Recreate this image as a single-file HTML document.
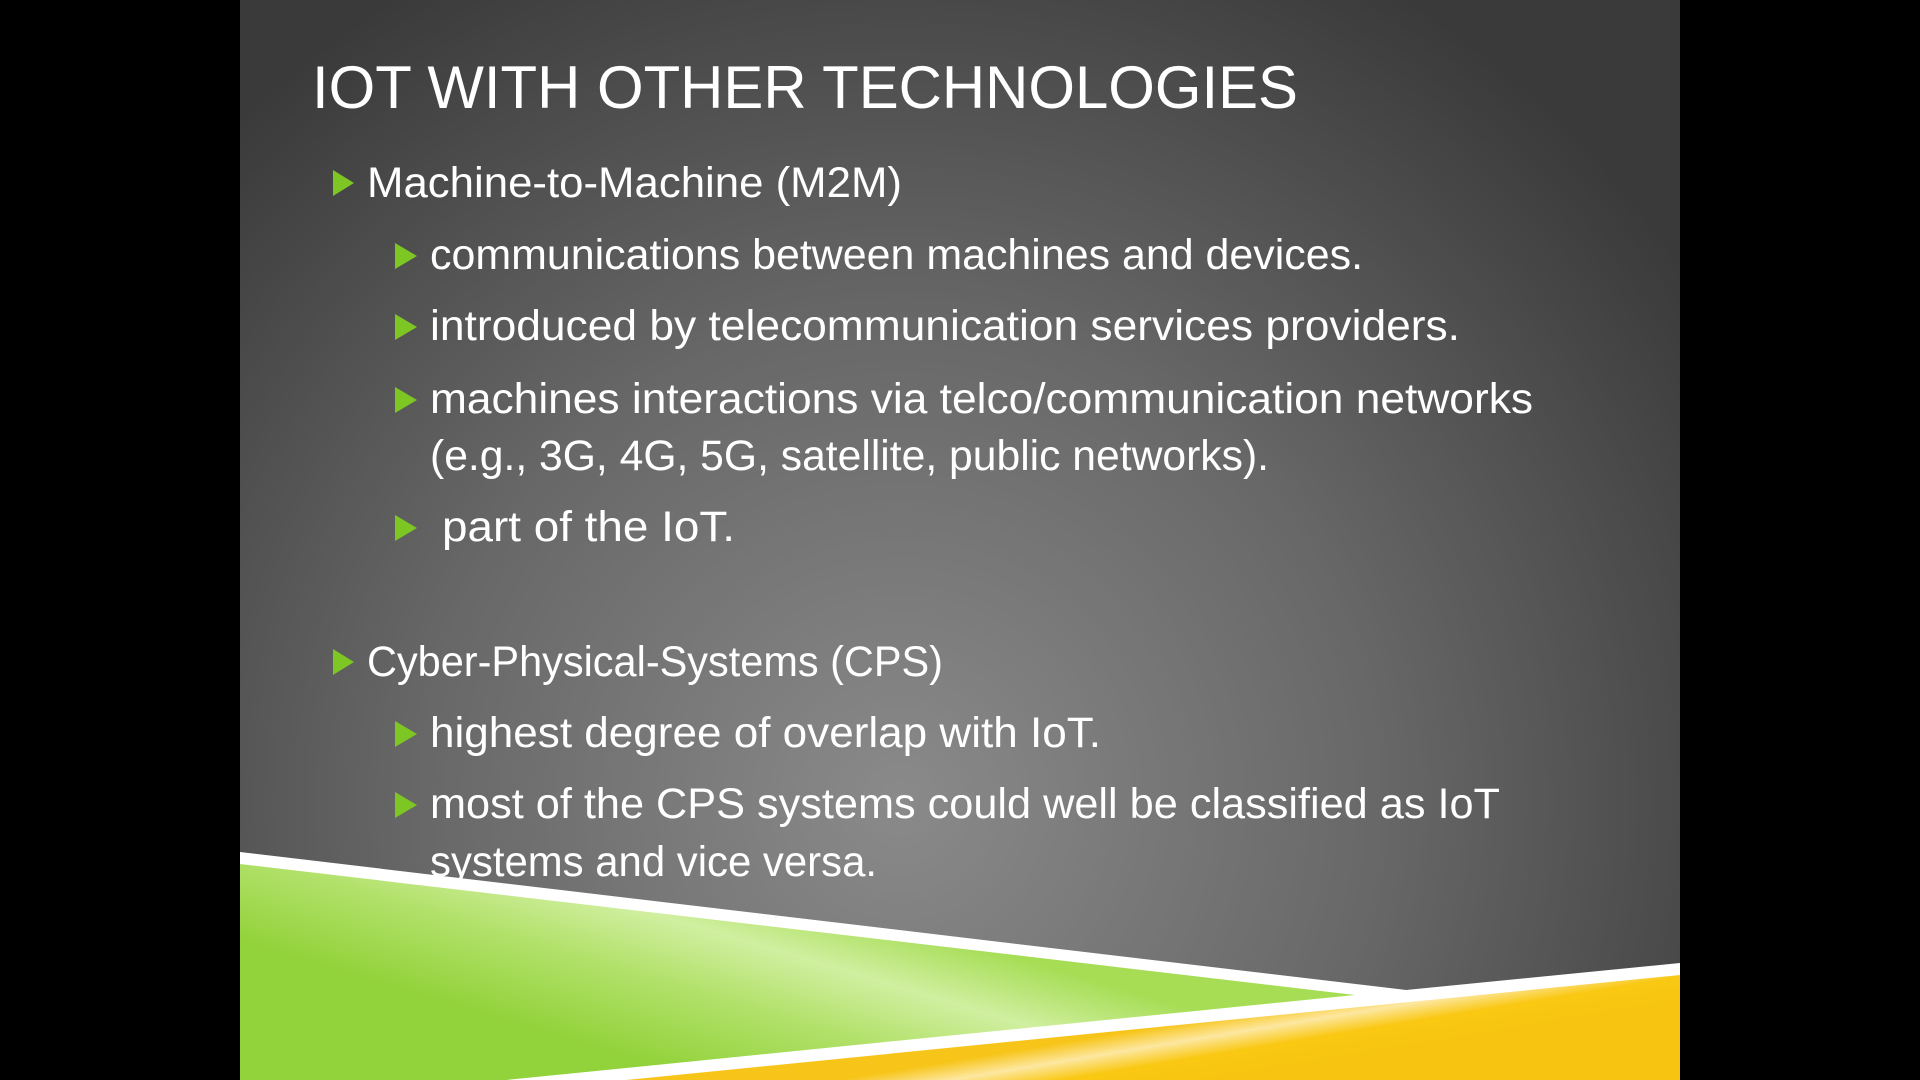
<!DOCTYPE html>
<html><head><meta charset="utf-8"><style>
html,body{margin:0;padding:0;background:#000;width:1920px;height:1080px;overflow:hidden}
svg{display:block}
text{font-family:"Liberation Sans",sans-serif;fill:#fff}
</style></head><body>
<svg width="1920" height="1080" viewBox="0 0 1920 1080" xmlns="http://www.w3.org/2000/svg">
<defs>
<radialGradient id="bg" cx="900" cy="800" r="950" gradientUnits="userSpaceOnUse">
<stop offset="0" stop-color="#8a8a8a"/><stop offset="0.5" stop-color="#686868"/><stop offset="1" stop-color="#3a3a3a"/>
</radialGradient>
<linearGradient id="gr" x1="760" y1="880" x2="700" y2="1080" gradientUnits="userSpaceOnUse">
<stop offset="0" stop-color="#a6dd55"/><stop offset="0.3" stop-color="#d0efa0"/><stop offset="0.6" stop-color="#b2e16a"/><stop offset="1" stop-color="#92d23a"/>
</linearGradient>
<linearGradient id="ye" x1="1200" y1="1020" x2="1210" y2="1080" gradientUnits="userSpaceOnUse">
<stop offset="0" stop-color="#f7c51a"/><stop offset="0.3" stop-color="#fde7a0"/><stop offset="0.6" stop-color="#f9c812"/><stop offset="1" stop-color="#f7c511"/>
</linearGradient>
</defs>
<rect x="0" y="0" width="1920" height="1080" fill="#000"/>
<rect x="240" y="0" width="1440" height="1080" fill="url(#bg)"/>
<polygon points="240,852 1406,990 1680,963 1680,1080 240,1080" fill="#fff"/>
<polygon points="240,864 1355,995 506,1080 240,1080" fill="url(#gr)"/>
<polygon points="626,1080 1680,975 1680,1080" fill="url(#ye)"/>

<text x="312" y="108" font-size="60" textLength="986" lengthAdjust="spacingAndGlyphs">IOT WITH OTHER TECHNOLOGIES</text>

<g fill="#7dc623">
<polygon points="333,170 354,183 333,196"/>
<polygon points="395,243 417,256 395,269"/>
<polygon points="395,314 417,327 395,340"/>
<polygon points="395,387 417,400 395,413"/>
<polygon points="395,515 417,528 395,541"/>
<polygon points="333,649 354,662 333,675"/>
<polygon points="395,721 417,734 395,747"/>
<polygon points="395,792 417,805 395,818"/>
</g>
<g font-size="43">
<text x="367" y="197" textLength="535" lengthAdjust="spacingAndGlyphs">Machine-to-Machine (M2M)</text>
<text x="430" y="269" textLength="933" lengthAdjust="spacingAndGlyphs">communications between machines and devices.</text>
<text x="430" y="340" textLength="1030" lengthAdjust="spacingAndGlyphs">introduced by telecommunication services providers.</text>
<text x="430" y="413" textLength="1103" lengthAdjust="spacingAndGlyphs">machines interactions via telco/communication networks</text>
<text x="430" y="470" textLength="839" lengthAdjust="spacingAndGlyphs">(e.g., 3G, 4G, 5G, satellite, public networks).</text>
<text x="442" y="541" textLength="293" lengthAdjust="spacingAndGlyphs">part of the IoT.</text>
<text x="367" y="676" textLength="576" lengthAdjust="spacingAndGlyphs">Cyber-Physical-Systems (CPS)</text>
<text x="430" y="747" textLength="671" lengthAdjust="spacingAndGlyphs">highest degree of overlap with IoT.</text>
<text x="430" y="818" textLength="1070" lengthAdjust="spacingAndGlyphs">most of the CPS systems could well be classified as IoT</text>
<text x="430" y="876" textLength="447" lengthAdjust="spacingAndGlyphs">systems and vice versa.</text>
</g>
</svg>
</body></html>
